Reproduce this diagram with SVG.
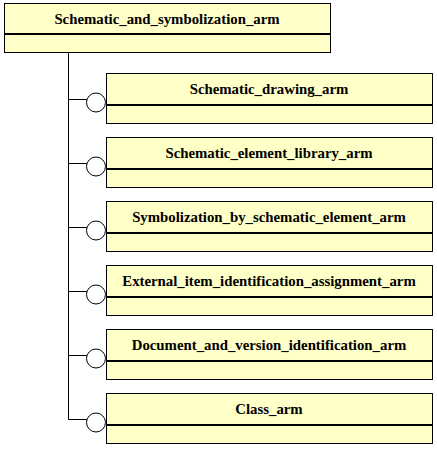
<svg xmlns="http://www.w3.org/2000/svg" width="437" height="449" viewBox="0 0 437 449">
<style>
.box{fill:#ffffc8;stroke:#000;stroke-width:1}
.div{stroke:#000;stroke-width:2}
.lbl{font-family:"Liberation Serif",serif;font-weight:bold;font-size:14.8px;text-anchor:middle;fill:#000}
.con{stroke:#000;stroke-width:1;fill:none}
.circ{fill:#fff;stroke:#000;stroke-width:1}
</style>
<g id="connectors">
<path class="con" d="M68.5 52V419.5"/>
<path class="con" d="M68.5 99.5H87M68.5 163.5H87M68.5 227.5H87M68.5 291.5H87M68.5 355.5H87M68.5 419.5H87"/>
</g>
<g id="Schematic_and_symbolization_arm">
<rect class="box" x="4.5" y="3.5" width="326" height="49"/>
<line class="div" x1="4.5" y1="34" x2="330.5" y2="34"/>
<text class="lbl" x="167" y="24">Schematic_and_symbolization_arm</text>
</g>
<g id="Schematic_drawing_arm">
<rect class="box" x="106.5" y="73.5" width="326" height="50"/>
<line class="div" x1="106.5" y1="105" x2="432.5" y2="105"/>
<text class="lbl" x="269" y="94">Schematic_drawing_arm</text>
<circle class="circ" cx="96" cy="102.5" r="9.5"/>
</g>
<g id="Schematic_element_library_arm">
<rect class="box" x="106.5" y="137.5" width="326" height="50"/>
<line class="div" x1="106.5" y1="169" x2="432.5" y2="169"/>
<text class="lbl" x="269" y="158">Schematic_element_library_arm</text>
<circle class="circ" cx="96" cy="166.5" r="9.5"/>
</g>
<g id="Symbolization_by_schematic_element_arm">
<rect class="box" x="106.5" y="201.5" width="326" height="50"/>
<line class="div" x1="106.5" y1="233" x2="432.5" y2="233"/>
<text class="lbl" x="269" y="222">Symbolization_by_schematic_element_arm</text>
<circle class="circ" cx="96" cy="230.5" r="9.5"/>
</g>
<g id="External_item_identification_assignment_arm">
<rect class="box" x="106.5" y="265.5" width="326" height="50"/>
<line class="div" x1="106.5" y1="297" x2="432.5" y2="297"/>
<text class="lbl" x="269" y="286">External_item_identification_assignment_arm</text>
<circle class="circ" cx="96" cy="294.5" r="9.5"/>
</g>
<g id="Document_and_version_identification_arm">
<rect class="box" x="106.5" y="329.5" width="326" height="50"/>
<line class="div" x1="106.5" y1="361" x2="432.5" y2="361"/>
<text class="lbl" x="269" y="350">Document_and_version_identification_arm</text>
<circle class="circ" cx="96" cy="358.5" r="9.5"/>
</g>
<g id="Class_arm">
<rect class="box" x="106.5" y="393.5" width="326" height="50"/>
<line class="div" x1="106.5" y1="425" x2="432.5" y2="425"/>
<text class="lbl" x="269" y="414">Class_arm</text>
<circle class="circ" cx="96" cy="422.5" r="9.5"/>
</g>
</svg>
